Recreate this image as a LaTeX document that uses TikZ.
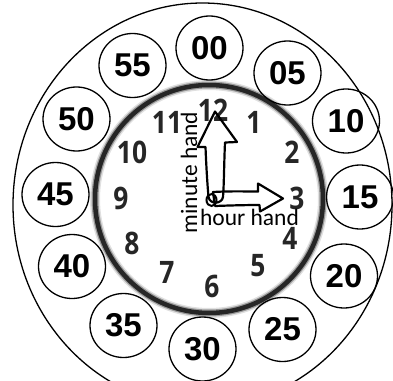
\documentclass[tikz,border=0pt]{standalone}
\usepackage{fontspec}
\setmainfont{Carlito}
\newfontfamily\minfont{Liberation Sans}
\newfontfamily\clockfont{Open Sans}
\usetikzlibrary{shapes.geometric}
\begin{document}
\begin{tikzpicture}[x=1pt,y=-1pt,
  minlabel/.style={draw, line width=1.3pt, ellipse, minimum width=67pt, minimum height=64pt, inner sep=0pt,
     font=\minfont\bfseries\fontsize{33}{33}\selectfont},
  hournum/.style={inner sep=0pt, xscale=0.85, text=black!85,
     font=\clockfont\bfseries\fontsize{31}{31}\selectfont},
  hand/.style={draw, line width=2.2pt, line join=round},
  handlabel/.style={inner sep=0pt, anchor=base, font=\fontsize{23.5}{28}\selectfont}]
\useasboundingbox (0,0) rectangle (393,380);
% outer ellipse
\draw[line width=1.3pt] (202.5,205) ellipse [x radius=189.5, y radius=202];
% inner clock ring (blurred)
\draw[line width=10pt, black!12] (209,199) circle [radius=114];
\draw[line width=7pt, black!40] (209,199) circle [radius=114];
\draw[line width=4.5pt, black!85] (209,199) circle [radius=114];
% minute labels
\node[minlabel] (m00) at (209.5,48) {00};
\node[minlabel] (m05) at (287.5,73) {05};
\node[minlabel] (m10) at (346,121) {10};
\node[minlabel] (m15) at (360,197) {15};
\node[minlabel] (m20) at (344,276) {20};
\node[minlabel] (m25) at (282.5,329.5) {25};
\node[minlabel] (m30) at (202.5,349) {30};
\node[minlabel] (m35) at (123.5,325.5) {35};
\node[minlabel] (m40) at (72,266.5) {40};
\node[minlabel] (m45) at (55.5,194.5) {45};
\node[minlabel] (m50) at (76.5,119) {50};
\node[minlabel] (m55) at (132.5,65.5) {55};
% clock numbers
\node[hournum] (h12) at (213,110) {12};
\node[hournum] (h1) at (254,122) {1};
\node[hournum] (h2) at (292,152) {2};
\node[hournum] (h3) at (297,198) {3};
\node[hournum] (h4) at (290,238) {4};
\node[hournum] (h5) at (258,266) {5};
\node[hournum] (h6) at (212,286) {6};
\node[hournum] (h7) at (167,272) {7};
\node[hournum] (h8) at (132,243) {8};
\node[hournum] (h9) at (121,198) {9};
\node[hournum] (h10) at (132,152) {10};
\node[hournum] (h11) at (167,122) {11};
% minute hand
\draw[hand] (215,111.5) -- (237,142) -- (225,142.5)
  .. controls (224,165) and (224,185) .. (223,197)
  .. controls (222,204) and (210,205) .. (208.5,197)
  .. controls (207,180) and (206,160) .. (205.5,147)
  -- (197.5,147) -- cycle;
% hour hand
\draw[hand] (213,192) .. controls (230,191) and (245,191.5) .. (258,191.5)
  -- (258,183.5) -- (283,198.5) -- (260,211.5) -- (259.5,205)
  .. controls (245,205) and (228,205.5) .. (215,206) -- cycle;
% center pivot
\draw[line width=2pt] (211.5,200) ellipse [x radius=5, y radius=6];
% labels
\node[handlabel, rotate=90] (lminute) at (197,172.5) {minute hand};
\node[handlabel] (lhour) at (249.5,225) {hour hand};
\end{tikzpicture}
\end{document}
